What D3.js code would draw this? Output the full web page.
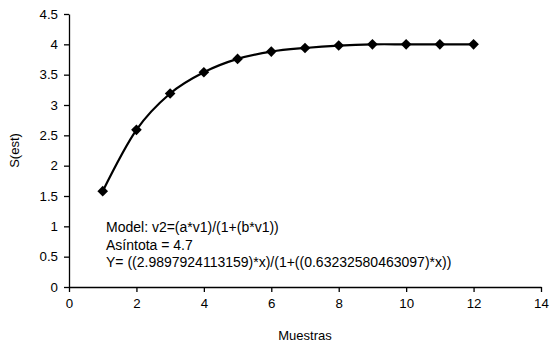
<!DOCTYPE html>
<html>
<head>
<meta charset="utf-8">
<script src="https://cdn.jsdelivr.net/npm/d3@7"></script>
<style>
body { margin: 0; background: #fff; }
svg text { font-family: "Liberation Sans", Arial, sans-serif; fill: #000; }
</style>
</head>
<body>
<div id="chart"></div>
<script>
// chart data
var muestras = [1, 2, 3, 4, 5, 6, 7, 8, 9, 10, 11, 12];
var sEst = [1.58, 2.59, 3.19, 3.54, 3.76, 3.88, 3.94, 3.98, 4.0, 4.0, 4.0, 4.0];
var xTicks = [0, 2, 4, 6, 8, 10, 12, 14];
var yTicks = [0, 0.5, 1, 1.5, 2, 2.5, 3, 3.5, 4, 4.5];
var notes = [
    "Model: v2=(a*v1)/(1+(b*v1))",
    "Asíntota = 4.7",
    "Y= ((2.9897924113159)*x)/(1+((0.63232580463097)*x))"
];

var width = 551, height = 343;
var margin = {top: 14, right: 10, bottom: 56, left: 69};

var svg = d3.select("#chart")
    .append("svg")
    .attr("width", width)
    .attr("height", height);

var x = d3.scaleLinear()
    .domain([0, 14])
    .range([margin.left, 541]);

var y = d3.scaleLinear()
    .domain([0, 4.5])
    .range([height - margin.bottom, margin.top]);

// axes
var xAxis = svg.append("g")
    .attr("transform", "translate(0," + y(0) + ")")
    .call(d3.axisBottom(x).tickValues(xTicks).tickSize(5).tickPadding(7).tickSizeOuter(0));

var yAxis = svg.append("g")
    .attr("transform", "translate(" + x(0) + ",0)")
    .call(d3.axisLeft(y).tickValues(yTicks).tickSize(5).tickPadding(6).tickSizeOuter(0)
        .tickFormat(d3.format("")));

[xAxis, yAxis].forEach(function(a) {
    a.selectAll("path, line").attr("stroke", "#000").attr("stroke-width", 1.3);
    a.selectAll("text").style("font-size", "13.3px").attr("fill", "#000");
    a.attr("font-family", null);
});

// smoothed line
var line = d3.line()
    .x(function(d, i) { return x(muestras[i]); })
    .y(function(d) { return y(d); })
    .curve(d3.curveCatmullRom.alpha(0));

svg.append("path")
    .datum(sEst)
    .attr("d", line)
    .attr("fill", "none")
    .attr("stroke", "#000")
    .attr("stroke-width", 2.2);

// diamond markers
svg.append("g")
    .selectAll("path")
    .data(sEst)
    .enter()
    .append("path")
    .attr("d", d3.symbol().type(d3.symbolDiamond2).size(72))
    .attr("transform", function(d, i) { return "translate(" + x(muestras[i]) + "," + y(d) + ")"; })
    .attr("fill", "#000");

// axis titles
svg.append("text")
    .attr("x", (x(0) + x(14)) / 2)
    .attr("y", 340)
    .attr("text-anchor", "middle")
    .style("font-size", "13px")
    .text("Muestras");

svg.append("text")
    .attr("transform", "translate(19," + (y(0) + y(4.5)) / 2 + ") rotate(-90)")
    .attr("text-anchor", "middle")
    .style("font-size", "13px")
    .text("S(est)");

// model notes
svg.append("g")
    .selectAll("text")
    .data(notes)
    .enter()
    .append("text")
    .attr("x", 106)
    .attr("y", function(d, i) { return 232 + i * 17.5; })
    .style("font-size", "14px")
    .text(function(d) { return d; });
</script>
</body>
</html>
